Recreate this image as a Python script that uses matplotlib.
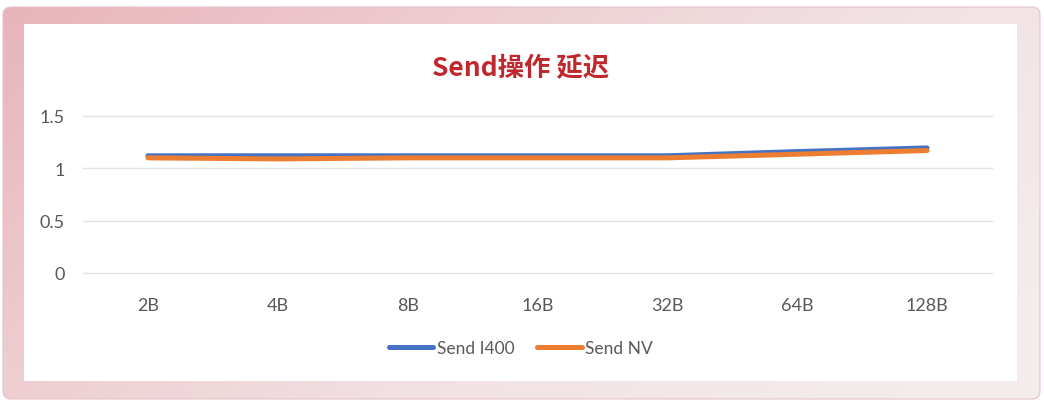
import numpy as np
import matplotlib
matplotlib.use("Agg")
import matplotlib.pyplot as plt
from matplotlib.patches import FancyBboxPatch, Rectangle
from matplotlib.colors import LinearSegmentedColormap

plt.rcParams['font.family'] = ['Noto Sans CJK SC', 'DejaVu Sans']

categories = ["2B", "4B", "8B", "16B", "32B", "64B", "128B"]
send_i400 = [1.12, 1.12, 1.12, 1.12, 1.12, 1.16, 1.195]
send_nv = [1.10, 1.09, 1.10, 1.10, 1.10, 1.135, 1.17]
yticks = [0, 0.5, 1, 1.5]
ytick_labels = ["0", "0.5", "1", "1.5"]

W, H = 1044, 406
fig = plt.figure(figsize=(W / 100, H / 100), dpi=100)
fig.patch.set_facecolor("white")

# background frame with gradient
bg = fig.add_axes([0, 0, 1, 1])
bg.set_xlim(0, W)
bg.set_ylim(H, 0)
bg.axis("off")
gx = np.linspace(0, 1, 256)[None, :]
gy = np.linspace(0, 1, 64)[:, None]
grad = np.clip(0.75 * gx + 0.35 * gy, 0, 1)
cmap = LinearSegmentedColormap.from_list("g", ["#e8b4bb", "#eecdd1", "#f2e2e4", "#f4ecec"])
im = bg.imshow(grad, extent=[3, 1040, 400, 8], aspect="auto", cmap=cmap, zorder=0)
clip = FancyBboxPatch((3, 8), 1037, 392, boxstyle="round,pad=0,rounding_size=8",
                      transform=bg.transData, facecolor="none", edgecolor="#e7c3c7", lw=0.8)
bg.add_patch(clip)
im.set_clip_path(clip)
bg.add_patch(Rectangle((24, 25), 993, 357, facecolor="white", edgecolor="none", zorder=1))

ax = fig.add_axes([83 / W, 1 - 274 / H, (992 - 83) / W, (274 - 117) / H])
ax.set_facecolor("none")
x = np.arange(len(categories))
ax.plot(x, send_i400, color="#4472C4", lw=3.6, solid_capstyle="round", label="Send I400", zorder=3)
ax.plot(x, send_nv, color="#ED7D31", lw=3.6, solid_capstyle="round", label="Send NV", zorder=4)
ax.set_xlim(-0.5, len(categories) - 0.5)
ax.set_ylim(0, 1.5)
ax.set_yticks(yticks)
ax.set_yticklabels(ytick_labels)
ax.set_xticks(x)
ax.set_xticklabels(categories)
ax.grid(axis="y", color="#e3e3e3", lw=1)
for gl in ax.get_ygridlines():
    gl.set_clip_on(False)
ax.set_axisbelow(True)
for s in ax.spines.values():
    s.set_visible(False)
ax.tick_params(length=0, labelsize=13, colors="#595959")
for lab in ax.get_xticklabels() + ax.get_yticklabels():
    lab.set_family(['Lato', 'Noto Sans CJK SC', 'DejaVu Sans'])
ax.tick_params(axis="y", pad=13)
ax.tick_params(axis="x", pad=17)

fig.text(521 / W, 1 - 69 / H, "Send操作 延迟", ha="center", va="center",
         fontsize=19, color="#C0282D", fontweight="semibold")

leg = ax.legend(loc="center", bbox_to_anchor=(0.482, -0.48), ncol=2, frameon=False,
                handlelength=2.55, handletextpad=0.22, columnspacing=1.3,
                labelcolor="#595959", prop={'family': ['Lato', 'Noto Sans CJK SC'], 'size': 12.5})

fig.savefig("out.png", dpi=100)
